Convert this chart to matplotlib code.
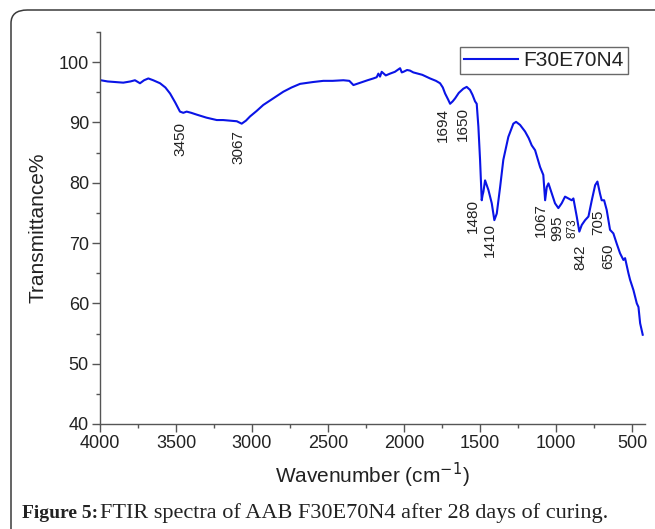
import matplotlib
matplotlib.use("Agg")
import matplotlib.pyplot as plt
from matplotlib.patches import FancyBboxPatch
from matplotlib.ticker import MultipleLocator

plt.rcParams['font.family'] = ['Liberation Sans', 'DejaVu Sans']

# ---- data ----
wavenumber = [3995, 3950, 3900, 3847, 3800, 3770, 3737, 3710, 3682, 3650, 3605, 3570, 3539,
              3505, 3474, 3452, 3430, 3400, 3364, 3300, 3232, 3190, 3145, 3100, 3068,
              3040, 3013, 2970, 2926, 2860, 2794, 2740, 2684, 2600, 2531, 2470, 2399,
              2360, 2333, 2310, 2289, 2240, 2202, 2180, 2169, 2158, 2147, 2120, 2092,
              2060, 2026, 2015, 2004, 1980, 1961, 1939, 1880, 1829, 1790, 1763, 1745,
              1730, 1710, 1697, 1680, 1664, 1640, 1610, 1588, 1566, 1550, 1533, 1522,
              1511, 1500, 1489, 1483, 1478, 1467, 1456, 1445, 1423, 1406, 1390, 1368,
              1347, 1314, 1281, 1263, 1237, 1204, 1180, 1160, 1138, 1105, 1084, 1072,
              1061, 1050, 1028, 1007, 985, 963, 941, 919, 897, 886, 864, 847, 831, 809,
              787, 765, 743, 728, 711, 700, 684, 667, 645, 623, 601, 579, 557, 546, 524,
              513, 491, 469, 458, 447, 430]
transmittance = [97.0, 96.8, 96.7, 96.6, 96.8, 97.0, 96.5, 97.0, 97.3, 97.0, 96.5, 95.8, 94.8,
                 93.3, 91.8, 91.6, 91.8, 91.6, 91.3, 90.8, 90.4, 90.4, 90.3, 90.2, 89.8,
                 90.3, 91.0, 91.9, 92.9, 94.0, 95.1, 95.8, 96.4, 96.7, 96.9, 96.9, 97.0,
                 96.9, 96.2, 96.4, 96.6, 97.0, 97.3, 97.5, 98.1, 97.6, 98.4, 97.8, 98.1,
                 98.4, 99.0, 98.3, 98.4, 98.7, 98.6, 98.3, 97.9, 97.3, 96.9, 96.5, 95.8,
                 94.8, 93.8, 93.1, 93.5, 94.0, 94.9, 95.6, 95.9, 95.4, 94.6, 93.5, 93.1,
                 89.3, 83.8, 77.1, 78.0, 78.5, 80.4, 79.6, 78.8, 76.6, 73.8, 74.9, 79.3,
                 83.8, 87.6, 89.8, 90.1, 89.6, 88.5, 87.4, 86.2, 85.4, 82.6, 81.3, 77.1,
                 79.3, 79.9, 78.2, 76.6, 75.8, 76.6, 77.7, 77.4, 77.1, 77.4, 74.4, 71.9,
                 73.0, 73.8, 74.4, 77.1, 79.6, 80.2, 78.2, 77.1, 77.1, 75.5, 72.2, 71.6,
                 69.9, 68.3, 67.2, 67.5, 65.0, 63.9, 62.2, 60.0, 59.4, 56.7, 54.8]

series_name = 'F30E70N4'
peak_labels = ['3450', '3067', '1694', '1650', '1480', '1410', '1067', '995', '873',
               '842', '705', '650']

x_ticks = [4000, 3500, 3000, 2500, 2000, 1500, 1000, 500]
y_ticks = [40, 50, 60, 70, 80, 90, 100]

# ---- figure ----
W, H = 655, 529
fig = plt.figure(figsize=(W / 100, H / 100), dpi=100)

# rounded frame (cropped at right/bottom)
frame = FancyBboxPatch((11 / W, 1 - 560 / H), 700 / W, 550 / H,
                       boxstyle="round,pad=0,rounding_size=0.025",
                       transform=fig.transFigure, fill=False,
                       edgecolor='#3a3a3a', linewidth=1.1, zorder=0)
fig.patches.append(frame)

ax = fig.add_axes([100 / W, 1 - 424 / H, 545 / W, 392 / H])
ax.plot(wavenumber, transmittance, color='#0a14e6', linewidth=1.5, label=series_name)

ax.set_xlim(4000, 415)
ax.set_ylim(40, 105)
ax.set_xticks(x_ticks)
ax.set_yticks(y_ticks)
ax.xaxis.set_minor_locator(MultipleLocator(250))
ax.yaxis.set_minor_locator(MultipleLocator(5))

for s in ['top', 'right']:
    ax.spines[s].set_visible(False)
for s in ['left', 'bottom']:
    ax.spines[s].set_color('#555555')
    ax.spines[s].set_linewidth(1.0)

ax.tick_params(which='major', direction='out', length=6, width=1.0, color='#555555',
               labelsize=13, labelcolor='#222222', pad=2)
ax.tick_params(which='minor', direction='out', length=3, width=1.0, color='#555555')

ax.set_xlabel('Wavenumber (cm$^{-1}$)', fontsize=15, color='#222222', labelpad=6)
ax.set_ylabel('Transmittance%', fontsize=15, color='#222222', labelpad=8)

# peak annotations (text anchors in data coordinates)
label_x = [3474, 3092, 1743, 1612, 1546, 1434, 1100, 993, 895, 842, 724, 658]
label_y = [90.1, 88.7, 92.4, 92.5, 77.3, 73.3, 76.6, 74.6, 74.1, 69.8, 75.5, 70.0]
for lab, lx, ly in zip(peak_labels, label_x, label_y):
    fs = 8.5 if lab == '873' else 11
    ax.text(lx, ly, lab, rotation=90, ha='center', va='top', fontsize=fs, color='#222222')

leg = ax.legend(loc='upper right', bbox_to_anchor=(0.969, 0.962), borderaxespad=0,
                fontsize=15, frameon=True, fancybox=False, handlelength=2.6,
                handletextpad=0.25, borderpad=0.2)
leg.get_frame().set_edgecolor('#444444')
leg.get_frame().set_linewidth(1.0)
for t in leg.get_texts():
    t.set_color('#222222')

# caption: bold lead, then regular text right after it
t1 = fig.text(22 / W, 1 - 513 / H, 'Figure 5:', fontsize=14, fontweight='bold',
              family='Liberation Serif', va='center', ha='left', color='#222222')
fig.canvas.draw()
bb = t1.get_window_extent(renderer=fig.canvas.get_renderer())
x_next = (bb.x1 + 2) / W
fig.text(x_next, 1 - 513 / H, 'FTIR spectra of AAB F30E70N4 after 28 days of curing.',
         fontsize=16, family='Liberation Serif', va='center', ha='left', color='#222222')

fig.savefig('out.png', dpi=100)
